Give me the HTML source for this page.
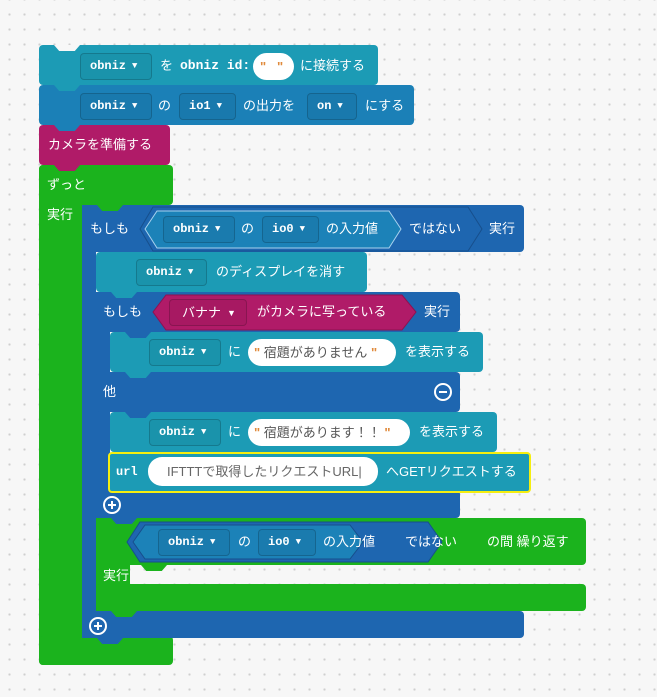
<!DOCTYPE html>
<html><head><meta charset="utf-8">
<style>
html,body{margin:0;padding:0;}
body{width:657px;height:697px;position:relative;overflow:hidden;background-color:#f7f7f7;
background-image:radial-gradient(circle,#cfcfcf 1px,transparent 1.3px);background-size:15px 15px;background-position:2px 7px;
font-family:"Liberation Sans","Noto Sans CJK JP",sans-serif;}
div,span{position:absolute;box-sizing:border-box;}
.b{border-radius:4px;}
.t{color:#fff;font-size:13px;line-height:18px;height:18px;white-space:nowrap;}
.f{border:1px solid rgba(0,0,0,0.18);background:rgba(0,0,0,0.05);border-radius:4px;height:27px;color:#fff;font:bold 12px/25px "Liberation Mono",monospace;padding-left:9px;white-space:nowrap;}
.f i{font-style:normal;font-size:9px;margin-left:6px;position:relative;top:-1px;}
.m{font:bold 13px/18px "Liberation Mono",monospace;color:#fff;}
.p{background:#fff;border-radius:14px;height:27px;color:#555;font-size:13px;line-height:27px;white-space:nowrap;padding-left:6px;}
.q{color:#e08a3c;font-weight:bold;}
.tab{height:6px;width:26px;clip-path:polygon(0 0,100% 0,80% 100%,20% 100%);}
.c{width:18px;height:18px;border:2px solid #fff;border-radius:50%;}
svg{position:absolute;left:0;top:0;}
</style></head><body>

<!-- green forever -->
<div class="b" style="left:39px;top:165px;width:134px;height:40px;background:#1bb31d"></div>
<div style="left:39px;top:165px;width:43px;height:500px;background:#1bb31d;border-radius:4px"></div>
<div class="b" style="left:39px;top:636px;width:134px;height:29px;background:#1bb31d"></div>
<span class="t" style="left:47px;top:176px">ずっと</span>
<span class="t" style="left:47px;top:206px">実行</span>

<!-- block1 -->
<div class="b" style="left:39px;top:45px;width:339px;height:40px;background:#1c9bb5"></div>
<div class="tab" style="left:54px;top:45px;background:#f7f7f7"></div>
<div class="f" style="left:80px;top:53px;width:72px">obniz<i>▼</i></div>
<span class="t" style="left:160px;top:57px">を</span>
<span class="m" style="left:180px;top:57px">obniz id:</span>
<div class="p" style="left:253px;top:53px;width:41px;padding-left:7px"><span class="q" style="position:static">"&nbsp;&nbsp;&nbsp;"</span></div>
<span class="t" style="left:300px;top:57px">に接続する</span>

<!-- block2 -->
<div class="b" style="left:39px;top:85px;width:375px;height:40px;background:#1b80b7"></div>
<div class="tab" style="left:54px;top:85px;background:#1c9bb5"></div>
<div class="f" style="left:80px;top:93px;width:72px">obniz<i>▼</i></div>
<span class="t" style="left:158px;top:97px">の</span>
<div class="f" style="left:179px;top:93px;width:57px">io1<i>▼</i></div>
<span class="t" style="left:243px;top:97px">の出力を</span>
<div class="f" style="left:307px;top:93px;width:50px">on<i>▼</i></div>
<span class="t" style="left:365px;top:97px">にする</span>

<!-- camera -->
<div class="b" style="left:39px;top:125px;width:131px;height:40px;background:#b01b68"></div>
<div class="tab" style="left:54px;top:125px;background:#1b80b7"></div>
<span class="t" style="left:48px;top:136px">カメラを準備する</span>
<div class="tab" style="left:54px;top:165px;background:#b01b68"></div>

<!-- outer if -->
<div class="b" style="left:82px;top:205px;width:442px;height:47px;background:#1e66b0"></div>
<div style="left:82px;top:205px;width:14px;height:433px;background:#1e66b0"></div>
<div class="b" style="left:82px;top:611px;width:442px;height:27px;background:#1e66b0"></div>
<div class="tab" style="left:97px;top:205px;background:#1bb31d"></div>
<div class="tab" style="left:97px;top:638px;background:#1e66b0"></div>
<span class="t" style="left:90px;top:220px">もしも</span>
<svg width="657" height="697">
<polygon points="140,229 153,207 468,207 482,229 468,251 153,251" fill="#1e66b0" stroke="#174f8c" stroke-width="1"/>
<polygon points="145,229 157,211 389,211 401,229 389,248 157,248" fill="#1c82b8" stroke="#a8d2ee" stroke-width="1"/>
</svg>
<div class="f" style="left:163px;top:216px;width:72px">obniz<i>▼</i></div>
<span class="t" style="left:241px;top:220px">の</span>
<div class="f" style="left:262px;top:216px;width:57px">io0<i>▼</i></div>
<span class="t" style="left:326px;top:220px">の入力値</span>
<span class="t" style="left:409px;top:220px">ではない</span>
<span class="t" style="left:489px;top:220px">実行</span>

<!-- display clear -->
<div class="b" style="left:96px;top:252px;width:271px;height:40px;background:#1c9bb5"></div>
<div class="f" style="left:136px;top:259px;width:71px">obniz<i>▼</i></div>
<span class="t" style="left:216px;top:263px">のディスプレイを消す</span>

<!-- inner if -->
<div class="b" style="left:96px;top:292px;width:364px;height:40px;background:#1e66b0"></div>
<div style="left:96px;top:292px;width:14px;height:226px;background:#1e66b0"></div>
<div class="b" style="left:96px;top:372px;width:364px;height:40px;background:#1e66b0"></div>
<div class="b" style="left:96px;top:490px;width:364px;height:28px;background:#1e66b0"></div>
<div class="tab" style="left:111px;top:292px;background:#1c9bb5"></div>
<span class="t" style="left:103px;top:303px">もしも</span>
<svg width="657" height="697">
<polygon points="153,312 166,295 402,295 416,312 402,330 166,330" fill="#b01b68" stroke="#8c1251" stroke-width="1"/>
</svg>
<div class="f" style="left:169px;top:299px;width:78px;padding-left:12px;font:13px/25px 'Liberation Sans','Noto Sans CJK JP',sans-serif">バナナ<i>▼</i></div>
<span class="t" style="left:257px;top:303px">がカメラに写っている</span>
<span class="t" style="left:424px;top:303px">実行</span>
<span class="t" style="left:103px;top:383px">他</span>
<div class="c" style="left:434px;top:383px"><div style="left:3px;top:6px;width:8px;height:2px;background:#fff"></div></div>

<!-- display 1 -->
<div class="b" style="left:110px;top:332px;width:373px;height:40px;background:#1c9bb5"></div>
<div class="tab" style="left:125px;top:332px;background:#1e66b0"></div>
<div class="tab" style="left:125px;top:372px;background:#1c9bb5"></div>
<div class="f" style="left:149px;top:339px;width:72px">obniz<i>▼</i></div>
<span class="t" style="left:228px;top:343px">に</span>
<div class="p" style="left:248px;top:339px;width:148px"><span class="q" style="position:static">"</span> 宿題がありません <span class="q" style="position:static">"</span></div>
<span class="t" style="left:405px;top:343px">を表示する</span>

<!-- display 2 -->
<div class="b" style="left:110px;top:412px;width:387px;height:40px;background:#1c9bb5"></div>
<div class="tab" style="left:125px;top:412px;background:#1e66b0"></div>
<div class="f" style="left:149px;top:419px;width:72px">obniz<i>▼</i></div>
<span class="t" style="left:228px;top:423px">に</span>
<div class="p" style="left:248px;top:419px;width:162px"><span class="q" style="position:static">"</span> 宿題があります！！ <span class="q" style="position:static">"</span></div>
<span class="t" style="left:419px;top:423px">を表示する</span>

<!-- url block -->
<div class="b" style="left:108px;top:452px;width:423px;height:41px;background:#1c9bb5;border:2px solid #f5ee10"></div>
<span class="m" style="left:116px;top:463px;font-size:12px">url</span>
<div class="p" style="left:148px;top:457px;width:230px;height:29px;line-height:29px;padding-left:19px;color:#666">IFTTTで取得したリクエストURL|</div>
<span class="t" style="left:386px;top:463px">へGETリクエストする</span>
<div class="c" style="left:103px;top:496px"><div style="left:3px;top:6px;width:8px;height:2px;background:#fff"></div><div style="left:6px;top:3px;width:2px;height:8px;background:#fff"></div></div>

<!-- while -->
<div class="b" style="left:96px;top:518px;width:490px;height:47px;background:#1bb31d"></div>
<div style="left:96px;top:518px;width:34px;height:93px;background:#1bb31d"></div>
<div class="b" style="left:96px;top:584px;width:490px;height:27px;background:#1bb31d"></div>
<div class="tab" style="left:111px;top:518px;background:#1e66b0"></div>
<div class="tab" style="left:141px;top:565px;background:#1bb31d"></div>
<div class="tab" style="left:111px;top:611px;background:#1bb31d"></div>
<svg width="657" height="697">
<polygon points="127,542 140,522 428,522 442,542 428,562 140,562" fill="#1e66b0" stroke="#174f8c" stroke-width="1"/>
<polygon points="133,542 145,525 350,525 363,542 350,559 145,559" fill="#1c82b8" stroke="#174f8c" stroke-width="1"/>
</svg>
<div class="f" style="left:158px;top:529px;width:72px">obniz<i>▼</i></div>
<span class="t" style="left:238px;top:533px">の</span>
<div class="f" style="left:258px;top:529px;width:58px">io0<i>▼</i></div>
<span class="t" style="left:323px;top:533px">の入力値</span>
<span class="t" style="left:405px;top:533px">ではない</span>
<span class="t" style="left:487px;top:533px">の間 繰り返す</span>
<span class="t" style="left:103px;top:567px">実行</span>

<div class="c" style="left:89px;top:617px"><div style="left:3px;top:6px;width:8px;height:2px;background:#fff"></div><div style="left:6px;top:3px;width:2px;height:8px;background:#fff"></div></div>

</body></html>
